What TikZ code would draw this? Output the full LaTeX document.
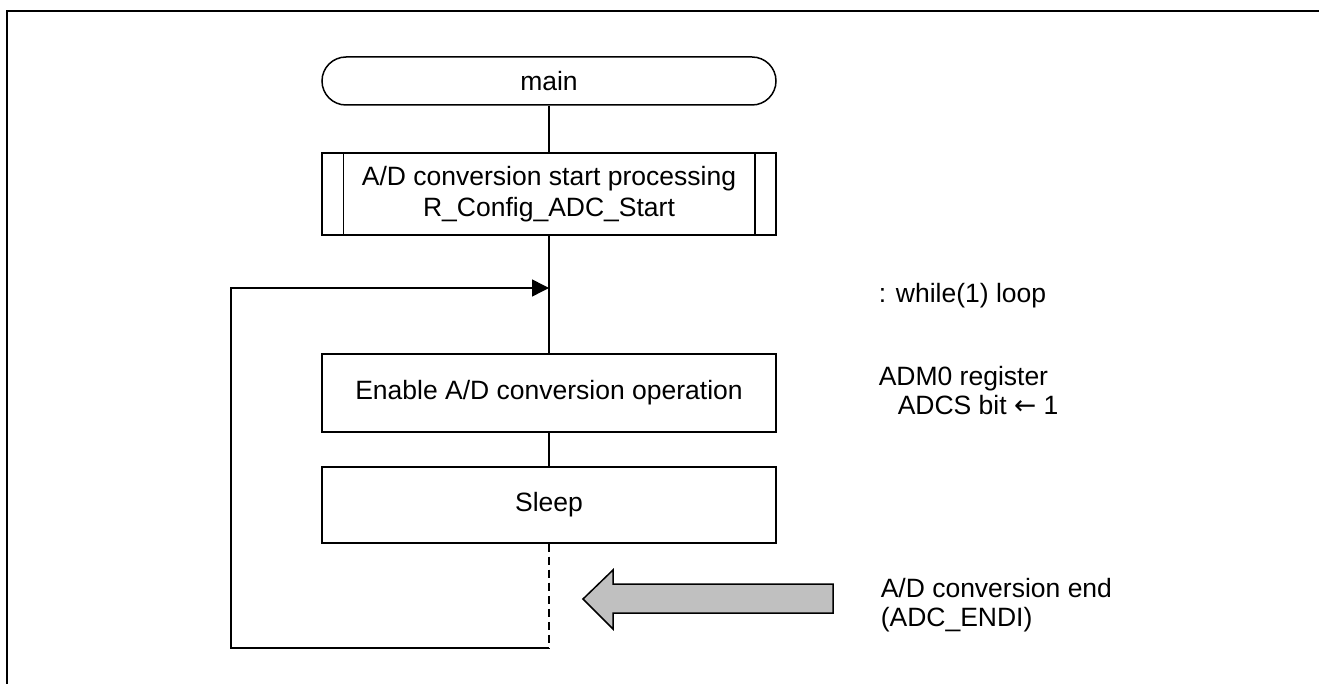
\documentclass[tikz,border=0pt]{standalone}
\usepackage{fontspec}
\setmainfont{Liberation Sans}
\newfontfamily\arrowfont{DejaVu Sans}
\usetikzlibrary{arrows.meta}
\usetikzlibrary{positioning}
\definecolor{mgray}{RGB}{192,192,192}

\begin{document}
\begin{tikzpicture}[x=0.5pt, y=-0.5pt, line width=0.75pt,
    font=\fontsize{13.25}{15.5}\selectfont,
    procbox/.style={draw, minimum width=227pt, minimum height=39pt, inner sep=0pt, align=center},
    note/.style={anchor=north west, inner sep=0pt, align=left, font=\fontsize{13.25}{14.5}\selectfont}]
  \useasboundingbox (0, 0) rectangle (1319, 684);
  \draw [line width=1pt] (7, 700) -- (7, 11) -- (1330, 11);

  % flow
  \node (main) at (549, 81) [draw, rounded corners=12pt, minimum width=227pt, minimum height=24pt, inner sep=0pt] {main};
  \node (start) at (549, 194) [procbox, minimum height=41pt] {A/D conversion start processing\\R\_Config\_ADC\_Start};
  \draw ([xshift=11pt]start.north west) -- ([xshift=11pt]start.south west);
  \draw ([xshift=-11pt]start.north east) -- ([xshift=-11pt]start.south east);
  \node (enable) at (549, 393) [procbox] {Enable A/D conversion operation};
  \node (sleep) at (549, 505) [procbox, minimum height=38pt] {Sleep};

  \coordinate (loopin) at (549, 288);
  \coordinate (loopend) at (549, 648);
  \coordinate (corner) at (231, 648);

  \draw (main) -- (start);
  \draw (start) -- (enable);
  \draw (enable) -- (sleep);
  \draw [dashed, dash pattern=on 4pt off 2.5pt] (sleep) -- (loopend);
  \draw [-{Triangle[length=8.5pt, width=8.5pt]}] (loopend) -- (corner) |- (loopin);

  % interrupt
  \draw [fill=mgray] (583, 599) -- (613, 570) -- (613, 584) -- (833, 584) -- (833, 613) -- (613, 613) -- (613, 629) -- cycle;

  % notes
  \node (loopnote) at (878, 283) [note] {: while(1) loop};
  \node (regnote) at (878, 366) [note] {ADM0 register\\\hspace*{9.5pt}ADCS bit {\arrowfont ←} 1};
  \node (intnote) at (880, 578) [note] {A/D conversion end\\(ADC\_ENDI)};
\end{tikzpicture}
\end{document}
